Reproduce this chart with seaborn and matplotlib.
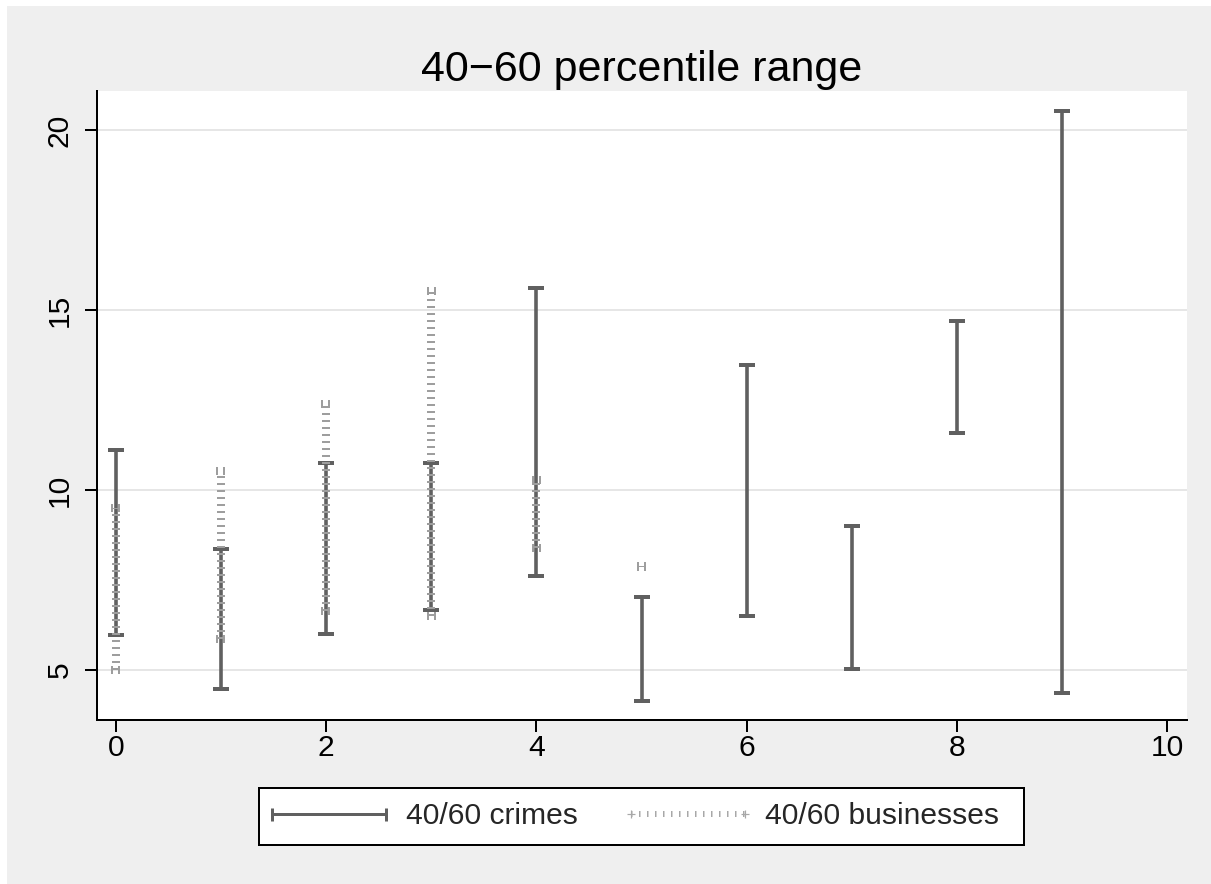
import numpy as np
import pandas as pd
import matplotlib
matplotlib.use("Agg")
import matplotlib.pyplot as plt
from matplotlib.lines import Line2D
from matplotlib.patches import Rectangle
import seaborn as sns

# ---- data ----
crime_x = [0, 1, 2, 3, 4, 5, 6, 7, 8, 9]
crime_low = [5.97, 4.47, 6.00, 6.67, 7.62, 4.15, 6.51, 5.04, 11.57, 4.35]
crime_high = [11.11, 8.35, 10.74, 10.74, 15.62, 7.04, 13.48, 8.99, 14.70, 20.54]

biz_x = [0, 1, 2, 3, 4, 5]
biz_low = [5.00, 5.85, 6.65, 6.50, 8.40, 7.86]
biz_high = [9.51, 10.54, 12.39, 15.53, 10.28, 7.90]

x_ticks = [0, 2, 4, 6, 8, 10]
y_ticks = [5, 10, 15, 20]
title = "40\u221260 percentile range"
labels = ["40/60 crimes", "40/60 businesses"]

# ---- style ----
sns.set_theme(style="white")
plt.rcParams["font.family"] = ["Liberation Sans", "DejaVu Sans"]
plt.rcParams["lines.scale_dashes"] = False
plt.rcParams["axes.unicode_minus"] = True

CRIME_C = "#606060"
BIZ_C = "#9E9E9E"
BG = "#EFEFEF"
W, H = 1211, 884
PX = 72 / 100  # points per pixel at dpi 100


def seg_frame(xs, lows, highs):
    rows = []
    for i, (x, lo, hi) in enumerate(zip(xs, lows, highs)):
        rows.append({"x": x, "y": lo, "seg": i})
        rows.append({"x": x, "y": hi, "seg": i})
    return pd.DataFrame(rows)


def cap_frame(xs, lows, highs, hw):
    rows = []
    k = 0
    for x, lo, hi in zip(xs, lows, highs):
        for v in (lo, hi):
            rows.append({"x": x - hw, "y": v, "seg": k})
            rows.append({"x": x + hw, "y": v, "seg": k})
            k += 1
    return pd.DataFrame(rows)


fig = plt.figure(figsize=(W / 100, H / 100), dpi=100)
fig.patch.set_facecolor("white")
fig.add_artist(Rectangle((7 / W, 0), 1 - 7 / W, 1 - 6 / H, transform=fig.transFigure,
                         facecolor=BG, edgecolor="none", zorder=-10))

ax = fig.add_axes([97 / W, 1 - 720 / H, (1187 - 97) / W, (720 - 90.5) / H])
ax.set_facecolor("white")

# businesses (thick dashed light grey range caps)
biz_dash = (0, (2 * PX, 5 * PX))
sns.lineplot(data=seg_frame(biz_x, biz_low, biz_high), x="x", y="y", units="seg",
             estimator=None, sort=False, color=BIZ_C, linewidth=8 * PX,
             linestyle=biz_dash, ax=ax, legend=False, zorder=3)
sns.lineplot(data=cap_frame(biz_x, biz_low, biz_high, 0.045), x="x", y="y", units="seg",
             estimator=None, sort=False, color=BIZ_C, linewidth=8 * PX,
             linestyle=biz_dash, ax=ax, legend=False, zorder=3)

# crimes (solid dark grey range caps)
sns.lineplot(data=seg_frame(crime_x, crime_low, crime_high), x="x", y="y", units="seg",
             estimator=None, sort=False, color=CRIME_C, linewidth=3.6 * PX,
             ax=ax, legend=False, zorder=2, solid_capstyle="butt")
caps = pd.DataFrame({"x": crime_x * 2, "y": crime_low + crime_high})
sns.scatterplot(data=caps, x="x", y="y", marker="_", s=(16.5 * PX) ** 2,
                linewidth=4 * PX, color=CRIME_C, edgecolor=CRIME_C, ax=ax,
                legend=False, zorder=2)

# ---- axes ----
ax.set_xlim(-0.181, 10.19)
ax.set_ylim(3.611, 21.097)
ax.set_xticks(x_ticks)
ax.set_yticks(y_ticks)
ax.set_xlabel("")
ax.set_ylabel("")
ax.grid(axis="y", color="#E6E6E6", linewidth=2 * PX, zorder=0)
ax.set_axisbelow(True)
for s in ("top", "right"):
    ax.spines[s].set_visible(False)
for s in ("left", "bottom"):
    ax.spines[s].set_color("black")
    ax.spines[s].set_linewidth(2 * PX)
ax.tick_params(axis="both", direction="out", length=12 * PX, width=2 * PX,
               color="black", labelsize=21.6, labelcolor="black")
ax.tick_params(axis="x", pad=1.5, bottom=True)
ax.tick_params(axis="y", pad=8, left=True, labelrotation=90)
for lab in ax.get_yticklabels():
    lab.set_va("center")

ax.set_title(title, fontsize=31, pad=6.5, color="black")

# ---- legend ----
fig.add_artist(Rectangle((259 / W, 1 - 845 / H), (1024 - 259) / W, (845 - 788) / H,
                         transform=fig.transFigure, facecolor="white",
                         edgecolor="black", linewidth=2 * PX, zorder=5))
h1 = Line2D([0], [0], color=CRIME_C, lw=3 * PX, marker="|", markersize=13 * PX,
            markeredgewidth=3 * PX)
h2 = Line2D([0], [0], color="#A8A8A8", lw=6 * PX, linestyle=(0, (1.5 * PX, 6.5 * PX)),
            marker="+", markersize=8 * PX, markeredgewidth=1.2 * PX)
leg = fig.legend([h1, h2], labels, loc="center left",
                 bbox_to_anchor=(263 / W, 1 - 816.5 / H), ncol=2, fontsize=21.6,
                 frameon=False, handlelength=4.4, handletextpad=0.37,
                 columnspacing=1.47, borderpad=0, borderaxespad=0, numpoints=2)
leg.set_zorder(6)

fig.savefig("out.png", dpi=100, facecolor=fig.get_facecolor())
